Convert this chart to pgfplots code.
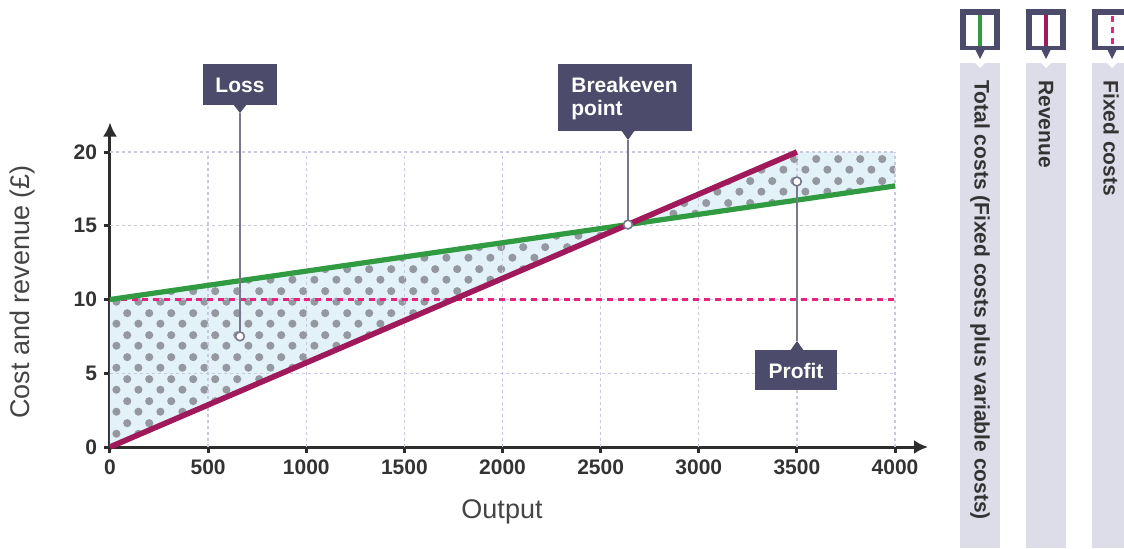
\documentclass[border=0pt]{standalone}
\usepackage{fontspec}
\setmainfont{Liberation Sans}
\usepackage{pgfplots}
\pgfplotsset{compat=1.18}
\usetikzlibrary{arrows.meta,patterns.meta}

\definecolor{tcgreen}{RGB}{48,155,64}
\definecolor{revcol}{RGB}{160,25,90}
\definecolor{fixpink}{RGB}{232,35,127}
\definecolor{fillblue}{RGB}{227,241,248}
\definecolor{dotgray}{RGB}{148,152,160}
\definecolor{calloutdark}{RGB}{76,75,107}
\definecolor{stripcol}{RGB}{221,220,233}
\definecolor{gridcol}{RGB}{200,200,222}
\definecolor{axisdark}{RGB}{45,45,45}
\definecolor{textdark}{RGB}{51,51,51}
\definecolor{labelgray}{RGB}{68,68,68}
\definecolor{leadgray}{RGB}{120,120,140}

\pgfdeclarepattern{
  name=bigdots,
  type=uncolored,
  bottom left={\pgfpoint{0pt}{0pt}},
  top right={\pgfpoint{11.15pt}{11pt}},
  tile size={\pgfpoint{11.15pt}{11pt}},
  code={
    \pgfpathcircle{\pgfpoint{2.79pt}{2.75pt}}{2.1pt}
    \pgfpathcircle{\pgfpoint{8.36pt}{8.25pt}}{2.1pt}
    \pgfusepath{fill}
  }
}

\begin{document}
\begin{tikzpicture}
\begin{axis}[
  at={(0pt,0pt)}, anchor=south west,
  scale only axis, width=409pt, height=162.25pt,
  xmin=0, xmax=4168, ymin=0, ymax=22,
  axis lines=left,
  axis line style={line width=1.5pt, color=axisdark, -{Latex[length=7pt,width=7pt]}},
  xtick={0,500,...,4000}, ytick={0,5,10,15,20},
  tick align=outside, major tick length=3pt,
  tick style={line width=1.5pt, color=axisdark},
  ticklabel style={font=\bfseries\fontsize{10.5}{12}\selectfont, text=textdark},
  /pgf/number format/assume math mode=true,
  /pgf/number format/1000 sep={},
  clip=false,
]
% shaded areas
\addplot[draw=none, fill=fillblue] coordinates {(0,0) (0,10) (2639,15.08)} -- cycle;
\addplot[draw=none, pattern=bigdots, pattern color=dotgray] coordinates {(0,0) (0,10) (2639,15.08)} -- cycle;
\addplot[draw=none, fill=fillblue] coordinates {(2639,15.08) (3500,20) (4000,20) (4000,17.7)} -- cycle;
\addplot[draw=none, pattern=bigdots, pattern color=dotgray] coordinates {(2639,15.08) (3500,20) (4000,20) (4000,17.7)} -- cycle;
% grid
\pgfplotsinvokeforeach{500,1000,1500,2000,2500,3000,3500,4000}{
  \draw[gridcol, line width=0.7pt, dash pattern=on 1.5pt off 1.5pt] (axis cs:#1,0) -- (axis cs:#1,20);
}
\pgfplotsinvokeforeach{5,10,15,20}{
  \draw[gridcol, line width=0.7pt, dash pattern=on 1.5pt off 1.5pt] (axis cs:0,#1) -- (axis cs:4000,#1);
}
% lines
\addplot[fixpink, line width=1.2pt, dash pattern=on 3pt off 2.4pt] coordinates {(0,10) (4000,10)};
\addplot[tcgreen, line width=2.6pt] coordinates {(0,10) (4000,17.7)};
\addplot[revcol, line width=2.8pt] coordinates {(0,0) (3500,20)};
% leader lines
\draw[leadgray, line width=1pt] (axis cs:662,22.64) -- (axis cs:662,7.5);
\draw[leadgray, line width=1pt] (axis cs:2639,20.81) -- (axis cs:2639,15.08);
\draw[leadgray, line width=1pt] (axis cs:3500,7.19) -- (axis cs:3500,18);
\addplot[only marks, mark=*, mark size=2.2pt, mark options={fill=white, draw=leadgray, line width=0.8pt}] coordinates {(662,7.5) (2639,15.08) (3500,18)};
\end{axis}

\begin{scope}[shift={(-55pt,223.5pt)}, x=0.5pt, y=-0.5pt]
\path (0,0) rectangle (1124,548);
% callouts
\fill[calloutdark] (203,64) rectangle (277,105);
\fill[calloutdark] (233,104) -- (247,104) -- (240,113) -- cycle;
\node[anchor=base, text=white, font=\bfseries\fontsize{10.5}{12}\selectfont, inner sep=0] at (240,92) {Loss};
\fill[calloutdark] (558,64) rectangle (692,131);
\fill[calloutdark] (621,130) -- (635,130) -- (628,140) -- cycle;
\node[anchor=base west, text=white, font=\bfseries\fontsize{10.5}{12}\selectfont, inner sep=0] at (571,92) {Breakeven};
\node[anchor=base west, text=white, font=\bfseries\fontsize{10.5}{12}\selectfont, inner sep=0] at (571,115) {point};
\fill[calloutdark] (755,350) rectangle (837,390);
\fill[calloutdark] (790,351) -- (804,351) -- (797,341) -- cycle;
\node[anchor=base, text=white, font=\bfseries\fontsize{10.5}{12}\selectfont, inner sep=0] at (796,378) {Profit};
% axis labels
\node[rotate=90, font=\fontsize{13.5}{16}\selectfont, text=labelgray] at (23,292) {Cost and revenue (£)};
\node[font=\fontsize{13.5}{16}\selectfont, text=labelgray] at (502,512) {Output};
% legend
\foreach \L/\tx/\txt in {960/980/{Total costs (Fixed costs plus variable costs)}, 1026/1046/{Revenue}, 1092/1111/{Fixed costs}}{
  \fill[stripcol] (\L,63) rectangle ({min(\L+40,1124)},548);
  \fill[white] (\L+14,62) -- (\L+26,62) -- (\L+20,68) -- cycle;
  \fill[calloutdark] (\L,9) rectangle ({min(\L+40,1124)},50);
  \fill[calloutdark] (\L+15,49) -- (\L+25,49) -- (\L+20,59) -- cycle;
  \fill[white] (\L+6,15) rectangle ({min(\L+34,1124)},46);
  \node[rotate=-90, anchor=west, inner sep=0, font=\bfseries\fontsize{10.5}{12}\selectfont, text=textdark] at (\tx,80) {\txt};
}
\draw[tcgreen, line width=2pt] (980,15) -- (980,46);
\draw[revcol, line width=2pt] (1046,15) -- (1046,46);
\draw[fixpink, line width=1.5pt, dash pattern=on 3pt off 2.5pt] (1112,16) -- (1112,46);
\end{scope}
\end{tikzpicture}
\end{document}
